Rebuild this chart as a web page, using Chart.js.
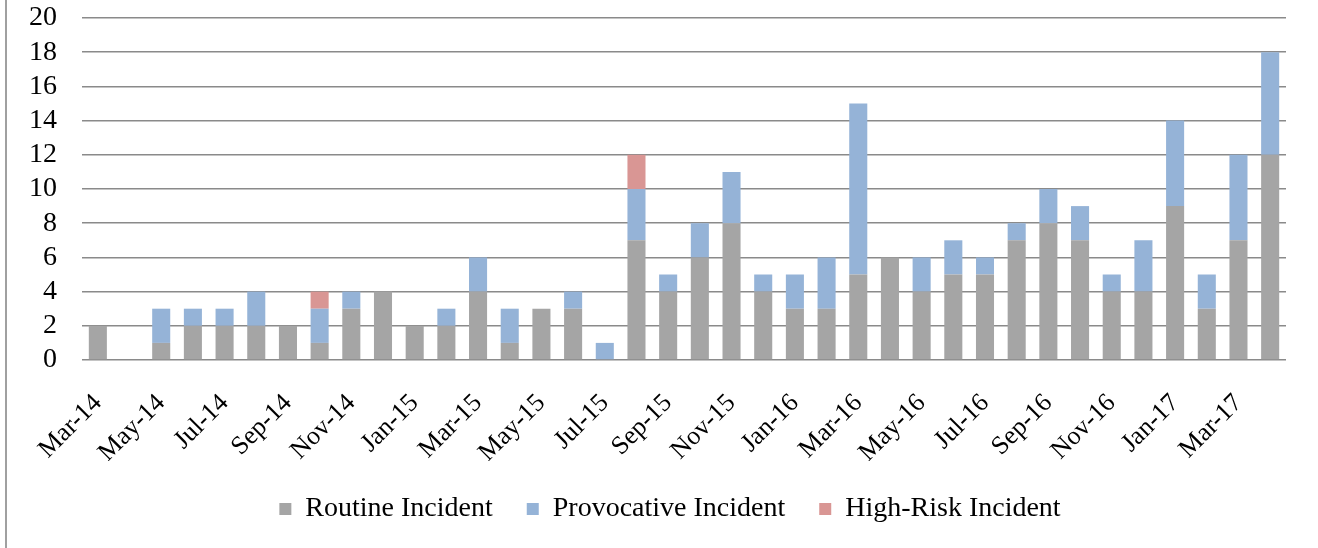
<!DOCTYPE html>
<html>
<head>
<meta charset="utf-8">
<script src="https://cdn.jsdelivr.net/npm/chart.js@4"></script>
<style>
html,body{margin:0;padding:0;background:#fff;}
#wrap{position:relative;width:1318px;height:548px;}
#frame{position:absolute;left:5px;top:0;width:0;height:548px;border-left:2px solid #a0a0a0;}
canvas{position:absolute;left:0;top:0;}
</style>
</head>
<body>
<div id="wrap"><div id="frame"></div><canvas id="c" width="1318" height="548"></canvas></div>
<script>
const categories = ["Mar-14","Apr-14","May-14","Jun-14","Jul-14","Aug-14","Sep-14","Oct-14","Nov-14","Dec-14",
  "Jan-15","Feb-15","Mar-15","Apr-15","May-15","Jun-15","Jul-15","Aug-15","Sep-15","Oct-15","Nov-15","Dec-15",
  "Jan-16","Feb-16","Mar-16","Apr-16","May-16","Jun-16","Jul-16","Aug-16","Sep-16","Oct-16","Nov-16","Dec-16",
  "Jan-17","Feb-17","Mar-17","Apr-17"];
const routine     = [2,0,1,2,2,2,2,1,3,4, 2,2,4,1,3,3,0,7,4,6,8,4, 3,3,5,6,4,5,5,7,8,7,4,4, 9,3,7,12];
const provocative = [0,0,2,1,1,2,0,2,1,0, 0,1,2,2,0,1,1,3,1,2,3,1, 2,3,10,0,2,2,1,1,2,2,1,3, 5,2,5,6];
const highRisk    = [0,0,0,0,0,0,0,1,0,0, 0,0,0,0,0,0,0,2,0,0,0,0, 0,0,0,0,0,0,0,0,0,0,0,0, 0,0,0,0];
const yTicks = [0,2,4,6,8,10,12,14,16,18,20];

const font = "'Liberation Serif', 'Times New Roman', serif";

const legendShift = {
  id: 'legendShift',
  afterLayout(chart) {
    if (chart.legend) { chart.legend.left += 27; chart.legend.right += 27; }
  }
};

new Chart(document.getElementById('c'), {
  type: 'bar',
  data: {
    labels: categories,
    datasets: [
      {label: 'Routine Incident', data: routine, backgroundColor: '#a5a5a5'},
      {label: 'Provocative Incident', data: provocative, backgroundColor: '#95b3d7'},
      {label: 'High-Risk Incident', data: highRisk, backgroundColor: '#d99694'}
    ]
  },
  plugins: [legendShift],
  options: {
    responsive: false,
    animation: false,
    layout: {padding: {left: 0, right: 32, top: 18, bottom: 15}},
    datasets: {bar: {barPercentage: 0.57, categoryPercentage: 1.0, borderWidth: 0}},
    plugins: {
      tooltip: {enabled: false},
      legend: {
        position: 'bottom',
        labels: {
          font: {family: font, size: 28},
          color: '#000',
          boxWidth: 12, boxHeight: 12,
          padding: 34
        }
      }
    },
    scales: {
      x: {
        stacked: true,
        grid: {display: false},
        border: {display: false},
        ticks: {
          autoSkip: false, minRotation: 45, maxRotation: 45,
          font: {family: font, size: 26}, color: '#000', padding: 20,
          callback: function(v, i) { return i % 2 === 0 ? categories[i] : ''; }
        },
        afterFit: function(s) { s.height = 101; s.paddingTop = 0; s.paddingBottom = 0; }
      },
      y: {
        stacked: true,
        min: 0, max: 20,
        afterBuildTicks: function(s) { s.ticks = yTicks.map(v => ({value: v})); },
        grid: {color: '#8a8a8a', lineWidth: 1.5, drawTicks: false},
        border: {display: false},
        ticks: {autoSkip: false, font: {family: font, size: 28}, color: '#000', padding: 25},
        afterFit: function(s) { s.width = 82; s.paddingTop = 0; s.paddingBottom = 0; }
      }
    }
  }
});
</script>
</body>
</html>
